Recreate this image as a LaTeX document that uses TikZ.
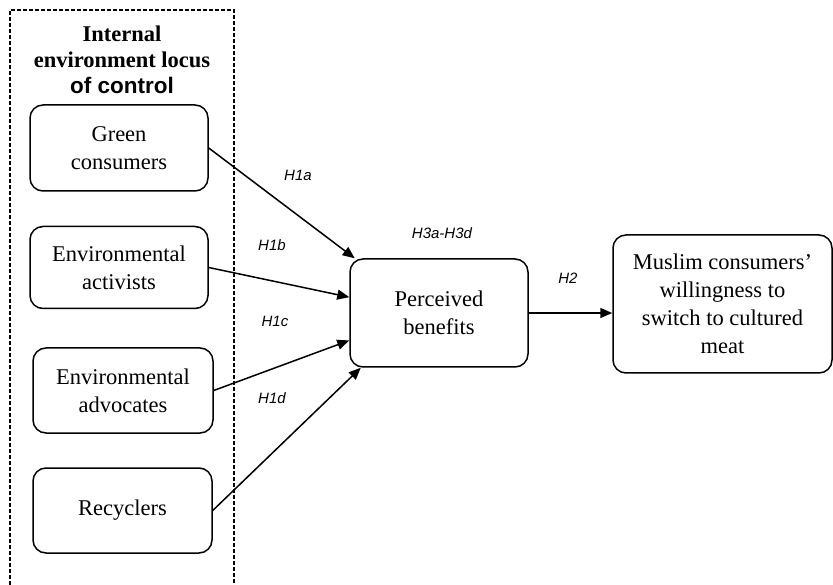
\documentclass[tikz,border=0pt]{standalone}
\usepackage{fontspec}
\setmainfont{Liberation Serif}
\setsansfont{Liberation Sans}
\usepackage{tikz}
\usetikzlibrary{arrows.meta}

\tikzset{
  varbox/.style={draw,line width=1.5pt,rounded corners=13pt,align=center,
    font=\fontsize{22.5}{28}\selectfont,inner sep=2pt},
  hyp/.style={font=\sffamily\itshape\fontsize{15}{18}\selectfont},
  hyparrow/.style={line width=1.5pt,-{Triangle[length=12pt,width=10pt]}}
}

\begin{document}
\begin{tikzpicture}[x=1pt,y=-1pt]
\useasboundingbox (0,0) rectangle (833,585);
% dashed frame of the left group
\draw[line width=1.3pt,dash pattern=on 4pt off 2pt](10,585)--(10,10)--(234,10)--(234,585);
\node[align=center,font=\bfseries\fontsize{22.5}{26}\selectfont](title) at (122,60)
  {Internal\\environment locus\\{\sffamily of control}};
% left boxes
\node[varbox,minimum width=178,minimum height=86](green) at (119,148) {Green\\consumers};
\node[varbox,minimum width=178,minimum height=82](act) at (119,267.5) {Environmental\\activists};
\node[varbox,minimum width=180,minimum height=85](adv) at (123,390.5) {Environmental\\advocates};
\node[varbox,minimum width=179,minimum height=85](rec) at (122.5,510.5) {Recyclers};
% mediator and outcome
\node[varbox,minimum width=178,minimum height=108](pb) at (439,313) {Perceived\\benefits};
\node[varbox,minimum width=219,minimum height=138](mw) at (722.5,304)
  {Muslim consumers'\\willingness to\\switch to cultured\\meat};
% arrows
\draw[hyparrow](green.east)--(pb.147);
\draw[hyparrow](act.east)--(pb.170);
\draw[hyparrow](adv.east)--(pb.197);
\draw[hyparrow](rec.east)--(pb.215);
\draw[hyparrow](pb.east)--(pb.east-|mw.west);
% hypothesis labels
\node[hyp](h1a) at (298,175) {H1a};
\node[hyp](h1b) at (272,245) {H1b};
\node[hyp](h1c) at (275,321) {H1c};
\node[hyp](h1d) at (272,398) {H1d};
\node[hyp](h3) at (442,233) {H3a-H3d};
\node[hyp](h2) at (568,278) {H2};
\end{tikzpicture}
\end{document}
